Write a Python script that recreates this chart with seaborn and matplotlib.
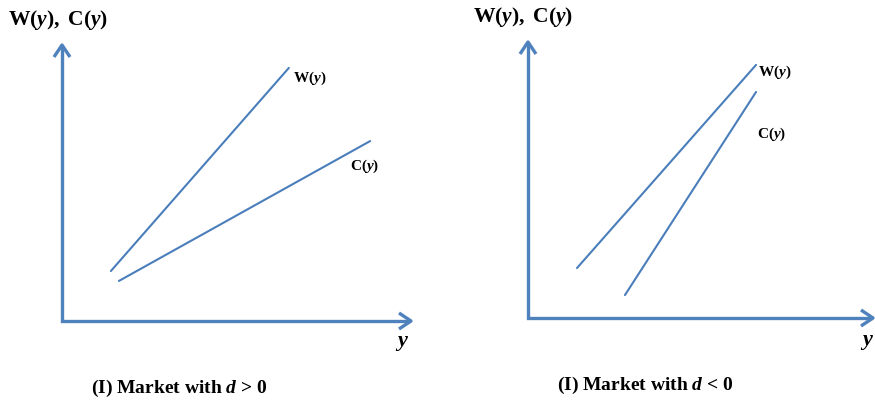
import matplotlib
matplotlib.use("Agg")
import matplotlib.pyplot as plt
import seaborn as sns
import pandas as pd

sns.set_style("white")
plt.rcParams['font.serif'] = ['Liberation Serif', 'Times New Roman', 'DejaVu Serif']
plt.rcParams['font.family'] = ['Liberation Serif', 'serif']
plt.rcParams['text.color'] = 'black'
plt.rcParams['mathtext.fontset'] = 'custom'
plt.rcParams['mathtext.rm'] = 'Liberation Serif:bold'
plt.rcParams['mathtext.it'] = 'Liberation Serif:italic:bold'
plt.rcParams['mathtext.bf'] = 'Liberation Serif:bold'

# Schematic line endpoints (axis units 0..10)
left_W_x = [1.40, 6.50]
left_W_y = [1.81, 9.17]
left_C_x = [1.63, 8.83]
left_C_y = [1.45, 6.52]
right_W_x = [1.42, 6.61]
right_W_y = [1.81, 9.17]
right_C_x = [2.81, 6.61]
right_C_y = [0.83, 8.19]

titles = ["(I) Market with $d$ > 0", "(I) Market with $d$ < 0"]
axis_title = r"$\mathrm{W}(y),\ \mathrm{C}(y)$"
w_label = r"$\mathrm{W}(y)$"
c_label = r"$\mathrm{C}(y)$"

AX_COL = "#4F81BD"
LN_COL = "#4A7EBB"

fig = plt.figure(figsize=(8.75, 4.0), dpi=100)
axL = fig.add_axes([62/875, 79/400, 349/875, 276/400])
axR = fig.add_axes([528/875, 82/400, 345/875, 276/400])

panels = [
    (axL, left_W_x, left_W_y, left_C_x, left_C_y,
     dict(title=(-1.55, 10.90), wl=(6.62, 8.80), cl=(8.25, 5.60), yl=(9.74, -0.80), cap=(3.35, -2.43))),
    (axR, right_W_x, right_W_y, right_C_x, right_C_y,
     dict(title=(-1.59, 10.90), wl=(6.67, 8.90), cl=(6.64, 6.64), yl=(9.83, -0.87), cap=(3.39, -2.46))),
]

for i, (ax, wx, wy, cx, cy, pos) in enumerate(panels):
    df = pd.concat([
        pd.DataFrame({"y": wx, "v": wy, "s": "W"}),
        pd.DataFrame({"y": cx, "v": cy, "s": "C"}),
    ])
    sns.lineplot(data=df, x="y", y="v", hue="s", palette=[LN_COL, LN_COL],
                 ax=ax, legend=False, linewidth=1.5, estimator=None, sort=False)
    ax.set_xlim(0, 10)
    ax.set_ylim(0, 10)
    for s in ax.spines.values():
        s.set_visible(False)
    ax.set_xticks([])
    ax.set_yticks([])
    ax.set_xlabel("")
    ax.set_ylabel("")
    ax.patch.set_alpha(0)

    # pixel -> data unit scales for the arrowheads
    bb = ax.get_position()
    px_x = 10.0 / (bb.width * 875)
    px_y = 10.0 / (bb.height * 400)
    hl, hw = 12, 8  # head length / half-width in pixels

    # L-shaped axes with square corner
    ax.plot([0, 0, 9.97], [9.97, 0, 0], color=AX_COL, lw=2.4, clip_on=False,
            solid_joinstyle="miter", solid_capstyle="butt")
    # arrowheads (open chevrons)
    ax.plot([10 - hl * px_x, 10, 10 - hl * px_x], [hw * px_y, 0, -hw * px_y],
            color=AX_COL, lw=2.4, clip_on=False, solid_joinstyle="round",
            solid_capstyle="butt")
    ax.plot([-hw * px_x, 0, hw * px_x], [10 - hl * px_y, 10, 10 - hl * px_y],
            color=AX_COL, lw=2.4, clip_on=False, solid_joinstyle="round",
            solid_capstyle="butt")

    ax.text(*pos["title"], axis_title, fontsize=15.5, ha="left", va="center", clip_on=False)
    ax.text(*pos["wl"], w_label, fontsize=11, ha="left", va="center", clip_on=False)
    ax.text(*pos["cl"], c_label, fontsize=11, ha="left", va="center", clip_on=False)
    ax.text(*pos["yl"], "$y$", fontsize=16, ha="center", va="center", clip_on=False)
    ax.text(*pos["cap"], titles[i], fontsize=14, fontweight="bold", ha="center",
            va="center", clip_on=False)

fig.savefig("out.png", dpi=100)
